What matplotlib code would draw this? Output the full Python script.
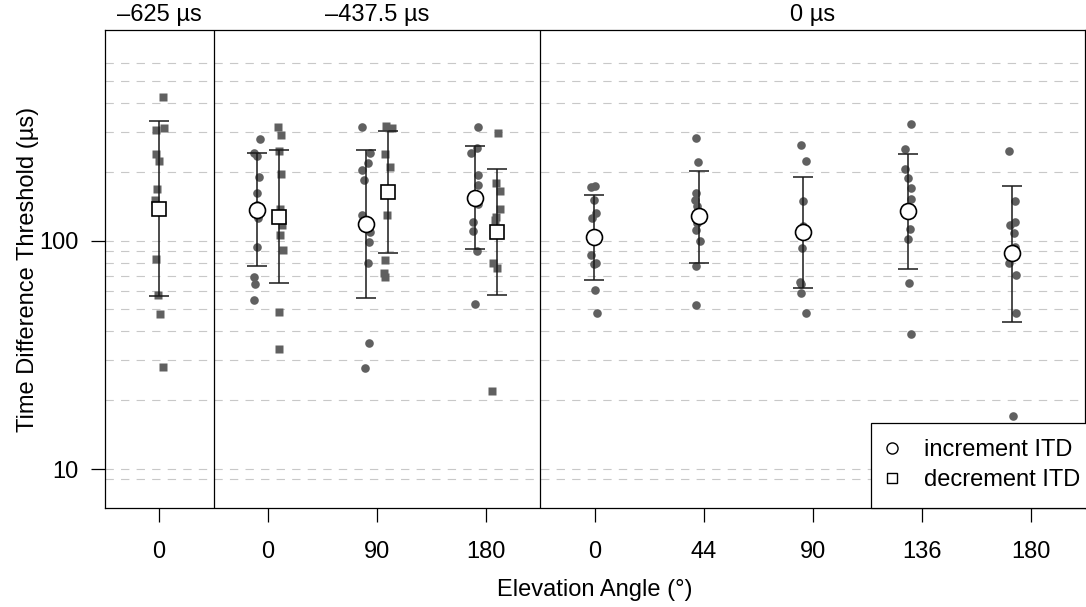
import numpy as np
import matplotlib
matplotlib.use("Agg")
import matplotlib.pyplot as plt
from matplotlib.lines import Line2D

plt.rcParams['font.family'] = ['Liberation Sans', 'DejaVu Sans']

# panels / axis text
panel_labels = ["\u2013625 \u00b5s", "\u2013437.5 \u00b5s", "0 \u00b5s"]
panel_centres = [1, 3, 7]
tick_labels = ["0", "0", "90", "180", "0", "44", "90", "136", "180"]

# individual thresholds (us), one list per condition
dec_m625_0 = [423, 310, 304, 238, 222, 168, 150, 83, 58, 47.5, 28]
inc_m437_0 = [279, 241, 234, 189, 162, 143, 126, 94, 69, 64.5, 55]
dec_m437_0 = [313, 289, 247, 195, 138, 117, 106, 91, 48.5, 33.4]
inc_m437_90 = [314, 241, 218, 203, 184, 129, 109, 99, 79.5, 35.7, 27.6]
dec_m437_90 = [317, 312, 239, 209, 166, 129, 82, 72, 69]
inc_m437_180 = [315, 253, 241, 193, 175, 145, 121, 110, 90, 52.6]
dec_m437_180 = [297, 178, 165, 137, 127, 123, 79.5, 75.6, 21.9]
inc_0_0 = [171, 173, 151, 132, 125, 86, 80, 79, 61, 48]
inc_0_44 = [280, 221, 161, 150, 141, 119, 111, 100, 77, 52]
inc_0_90 = [262, 224, 149, 116, 93, 66, 64.5, 59, 48]
inc_0_136 = [322, 251, 205, 188, 169, 152, 112, 102, 65, 39]
inc_0_180 = [247, 149, 120, 117, 107.5, 94, 80, 71, 48, 17]

series = [dec_m625_0, inc_m437_0, dec_m437_0, inc_m437_90, dec_m437_90,
          inc_m437_180, dec_m437_180, inc_0_0, inc_0_44, inc_0_90,
          inc_0_136, inc_0_180]
is_decrement = [True, False, True, False, True, False, True,
                False, False, False, False, False]

# geometric means and +/- 1 SD bounds
means = [138, 136, 127, 118, 163, 154, 109, 104, 128, 109, 134, 88]
lower = [57, 77, 65, 56, 88, 92, 58, 67, 80, 62, 75, 44]
upper = [334, 241, 248, 248, 301, 259, 205, 159, 202, 190, 239, 173]

# horizontal placement of each condition and the jitter of its points
series_x = [1, 1.9, 2.1, 2.9, 3.1, 3.9, 4.1, 4.994, 5.954, 6.913, 7.873, 8.833]
jitter = [
    [0.035, 0.041, -0.032, -0.032, -0.002, -0.020, -0.041, -0.032, -0.011, 0.005, 0.035],
    [0.025, -0.030, -0.006, 0.016, 0, 0, 0.009, 0, -0.030, -0.021, -0.030],
    [-0.006, 0.021, 0, 0.021, 0.009, 0.030, 0.009, 0.039, 0, 0],
    [-0.034, 0.037, 0.015, -0.040, -0.018, -0.040, 0.037, 0.028, 0.015, 0.028, -0.009],
    [-0.018, 0.037, -0.030, 0.022, 0, -0.009, -0.024, -0.039, -0.024],
    [0.028, 0.018, -0.034, 0.028, 0.028, 0.028, -0.018, -0.018, 0.018, -0.003],
    [0.009, -0.006, 0.025, 0.030, -0.006, -0.021, -0.037, 0, -0.043],
    [-0.030, 0.009, 0, 0.016, -0.021, -0.030, 0.016, 0, 0.006, 0.025],
    [-0.022, -0.006, -0.022, -0.034, -0.016, -0.013, -0.022, 0.012, -0.022, -0.022],
    [-0.024, 0.022, 0, 0, -0.009, -0.030, -0.024, -0.018, 0.028],
    [0.034, -0.021, -0.028, 0.003, 0.034, 0.034, 0.016, 0.003, 0.009, 0.030],
    [-0.034, 0.021, 0.028, -0.025, 0.012, 0.028, -0.034, 0.033, 0.037, 0.009],
]

grid_levels = [9, 10, 20, 30, 40, 50, 60, 70, 80, 90, 100, 200, 300, 400, 500, 600]

FS = 17
W, H = 1086, 607
fig = plt.figure(figsize=(W / 100, H / 100), dpi=100)
ax = fig.add_axes([104.7 / W, 99 / H, (1085 - 104.7) / W, (508 - 30.3) / H])
ax.set_yscale('log')
ax.set_xlim(0.5, 9.5)
ax.set_ylim(6.75, 832)

for g in grid_levels:
    ax.axhline(g, color='#c8c8c8', lw=0.8, dashes=(7.5, 6.5), zorder=0)

for xs in [1.5, 4.5]:
    ax.axvline(xs, color='black', lw=0.9, zorder=1)

pt_col = '#606060'
for i, vals in enumerate(series):
    mk = 's' if is_decrement[i] else 'o'
    xs = series_x[i] + np.array(jitter[i])
    ax.plot(xs, vals, mk, ms=6.2, color=pt_col, mec='none', zorder=2)

for i in range(len(series)):
    mk = 's' if is_decrement[i] else 'o'
    yerr = [[means[i] - lower[i]], [upper[i] - means[i]]]
    ax.errorbar([series_x[i]], [means[i]], yerr=yerr, fmt='none',
                ecolor='#1a1a1a', elinewidth=1.1, capsize=7.2, capthick=1.1,
                zorder=3)
    ax.plot([series_x[i]], [means[i]], mk, ms=11.5 if mk == 'o' else 10.5,
            mfc='white', mec='black', mew=1.2, zorder=4)

ax.set_xticks(range(1, 10))
ax.set_xticklabels(tick_labels, fontsize=FS)
ax.set_yticks([10, 100])
ax.set_yticklabels(["10", "100"], fontsize=FS)
ax.yaxis.set_minor_locator(matplotlib.ticker.NullLocator())
ax.tick_params(axis='both', length=10, width=0.9, color='black')
ax.tick_params(axis='x', pad=13.5)
ax.tick_params(axis='y', pad=9)

for sp in ax.spines.values():
    sp.set_linewidth(0.9)

for lab, xc in zip(panel_labels, panel_centres):
    ax.text(xc, 1.01, lab, transform=ax.get_xaxis_transform(), ha='center',
            va='bottom', fontsize=FS)

ax.set_xlabel("Elevation Angle (\u00b0)", fontsize=FS, labelpad=12)
ax.set_ylabel("Time Difference Threshold (\u00b5s)", fontsize=FS, labelpad=0)

handles = [
    Line2D([], [], marker='o', ls='none', ms=8, mfc='white', mec='black', mew=1.0),
    Line2D([], [], marker='s', ls='none', ms=7.5, mfc='white', mec='black', mew=1.0),
]
# legend runs off the right edge of the figure, as in the original
leg = ax.legend(handles, ["increment ITD", "decrement ITD"], loc='lower right',
                bbox_to_anchor=(1.0 + 11.5 / 980.3, 0.0), fontsize=FS,
                frameon=True, fancybox=False, framealpha=1, edgecolor='black',
                borderaxespad=0, handletextpad=1.1, labelspacing=0.35,
                borderpad=0.7, handlelength=0.45)
leg.get_frame().set_linewidth(0.9)
leg.set_zorder(5)

fig.savefig("out.png", dpi=100)
